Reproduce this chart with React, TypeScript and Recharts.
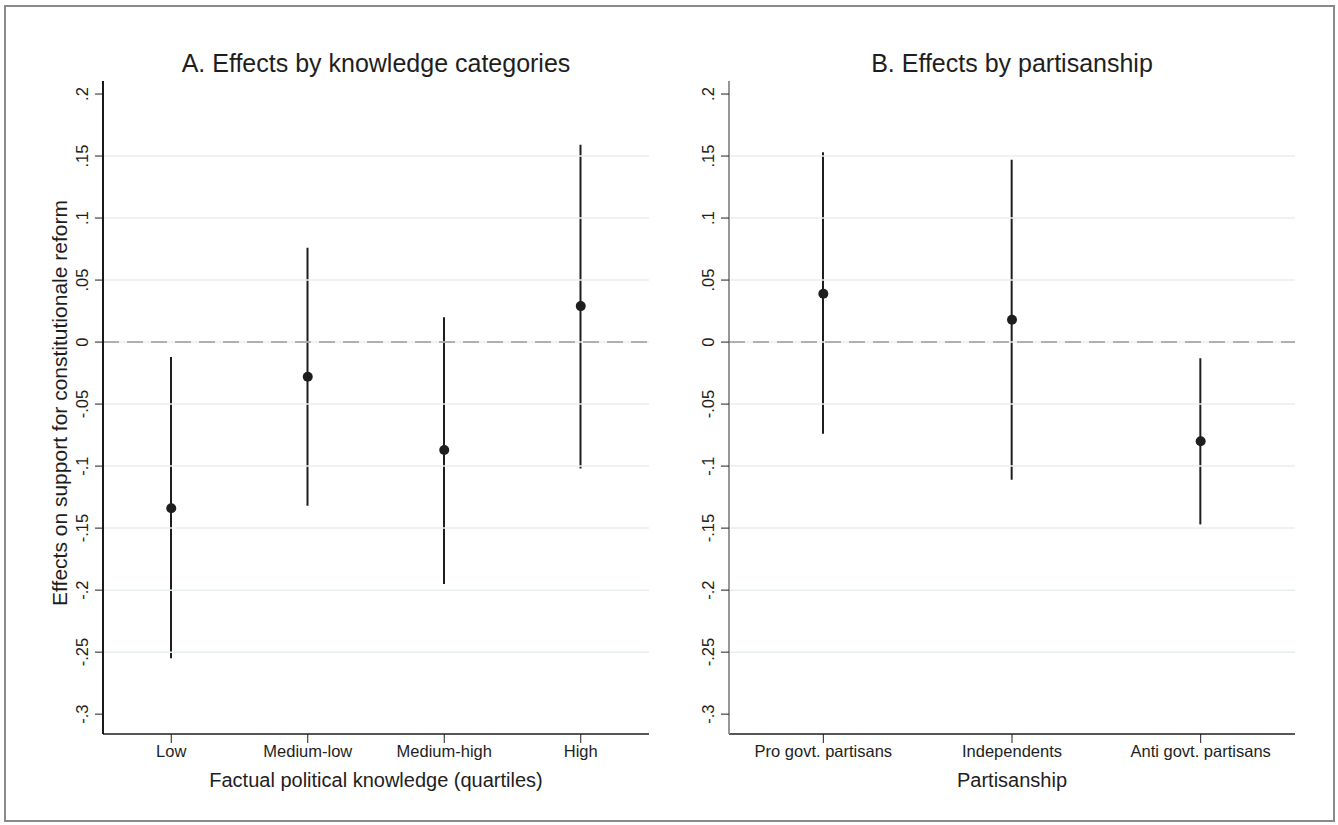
import React from 'react';
import { ComposedChart, Bar, Line, XAxis, YAxis, ReferenceLine } from 'recharts';

// Panel A: knowledge quartiles
const KNOW_CATS = ['Low', 'Medium-low', 'Medium-high', 'High'];
const KNOW_EST = [-0.134, -0.028, -0.087, 0.029];
const KNOW_LO = [-0.255, -0.132, -0.195, -0.102];
const KNOW_HI = [-0.012, 0.076, 0.02, 0.159];

// Panel B: partisanship
const PART_CATS = ['Pro govt. partisans', 'Independents', 'Anti govt. partisans'];
const PART_EST = [0.039, 0.018, -0.08];
const PART_LO = [-0.074, -0.111, -0.147];
const PART_HI = [0.153, 0.147, -0.013];

const Y_TICKS = [0.2, 0.15, 0.1, 0.05, 0, -0.05, -0.1, -0.15, -0.2, -0.25, -0.3];
const GRID_VALUES = [0.15, 0.1, 0.05, 0, -0.05, -0.1, -0.15, -0.2, -0.25];

const FONT = '"Liberation Sans", Arial, sans-serif';
const INK = '#1e1e1e';

const fmtTick = (v: number) => {
  if (v === 0) return '0';
  const s = Math.abs(v).toFixed(2).replace(/0+$/, '').replace(/^0/, '');
  return (v < 0 ? '-' : '') + s;
};

const build = (cats: string[], est: number[], lo: number[], hi: number[]) =>
  cats.map((name, i) => ({ name, est: est[i], range: [lo[i], hi[i]] }));

const knowData = build(KNOW_CATS, KNOW_EST, KNOW_LO, KNOW_HI);
const partData = build(PART_CATS, PART_EST, PART_LO, PART_HI);

const YTick: React.FC<any> = ({ x, y, payload }) => (
  <text
    x={x}
    y={y}
    transform={`rotate(-90 ${x} ${y})`}
    textAnchor="middle"
    fontSize={16.5}
    fontFamily={FONT}
    fill={INK}
  >
    {fmtTick(payload.value)}
  </text>
);

interface PanelProps {
  data: { name: string; est: number; range: number[] }[];
  width: number;
  left: number;
  yAxisWidth: number;
  rightMargin: number;
  yAxisColor: string;
}

const Panel: React.FC<PanelProps> = ({ data, width, left, yAxisWidth, rightMargin, yAxisColor }) => (
  <div style={{ position: 'absolute', left, top: 0 }}>
    <ComposedChart
      width={width}
      height={825}
      data={data}
      margin={{ top: 81, right: rightMargin, bottom: 31, left: 0 }}
    >
      {GRID_VALUES.map((v) => (
        <ReferenceLine key={`g${v}`} y={v} stroke="#e8eef0" strokeWidth={1.5} />
      ))}
      <ReferenceLine y={0} stroke="#9a9a9a" strokeWidth={1.5} strokeDasharray="16 8" />
      <XAxis
        dataKey="name"
        type="category"
        height={60}
        tickSize={9}
        tickMargin={2}
        tick={{ fontSize: 16.5, fontFamily: FONT, fill: INK }}
        tickLine={{ stroke: INK }}
        axisLine={{ stroke: INK, strokeWidth: 1.5 }}
        interval={0}
      />
      <YAxis
        type="number"
        domain={[-0.316, 0.2105]}
        ticks={Y_TICKS}
        allowDataOverflow
        width={yAxisWidth}
        tickSize={8}
        tickMargin={7}
        tick={<YTick />}
        tickLine={{ stroke: INK }}
        axisLine={{ stroke: yAxisColor, strokeWidth: 1.8 }}
        interval={0}
      />
      <Bar dataKey="range" barSize={2} fill={INK} isAnimationActive={false} />
      <Line
        dataKey="est"
        stroke="none"
        dot={{ r: 5, fill: INK, stroke: 'none' }}
        activeDot={false}
        isAnimationActive={false}
      />
    </ComposedChart>
  </div>
);

export default function App() {
  return (
    <div
      style={{
        position: 'absolute',
        left: 0,
        top: 0,
        width: 1338,
        height: 825,
        background: '#fff',
        overflow: 'hidden',
      }}
    >
      <div
        style={{
          position: 'absolute',
          left: 4,
          top: 5,
          width: 1331,
          height: 817,
          border: '2px solid #8a8a8a',
          boxSizing: 'border-box',
        }}
      />
      <Panel data={knowData} width={680} left={0} yAxisWidth={103} rightMargin={31} yAxisColor="#000" />
      <Panel data={partData} width={658} left={680} yAxisWidth={49} rightMargin={43} yAxisColor="#8c8c8c" />
      <svg
        width={1338}
        height={825}
        style={{ position: 'absolute', left: 0, top: 0, pointerEvents: 'none' }}
        fontFamily={FONT}
        fill={INK}
      >
        <text x={376} y={72} textAnchor="middle" fontSize={25}>
          A. Effects by knowledge categories
        </text>
        <text x={1012} y={72} textAnchor="middle" fontSize={25}>
          B. Effects by partisanship
        </text>
        <text x={376} y={787} textAnchor="middle" fontSize={20}>
          Factual political knowledge (quartiles)
        </text>
        <text x={1012} y={787} textAnchor="middle" fontSize={20}>
          Partisanship
        </text>
        <text x={67} y={403} transform="rotate(-90 67 403)" textAnchor="middle" fontSize={21}>
          Effects on support for constitutionale reform
        </text>
      </svg>
    </div>
  );
}
